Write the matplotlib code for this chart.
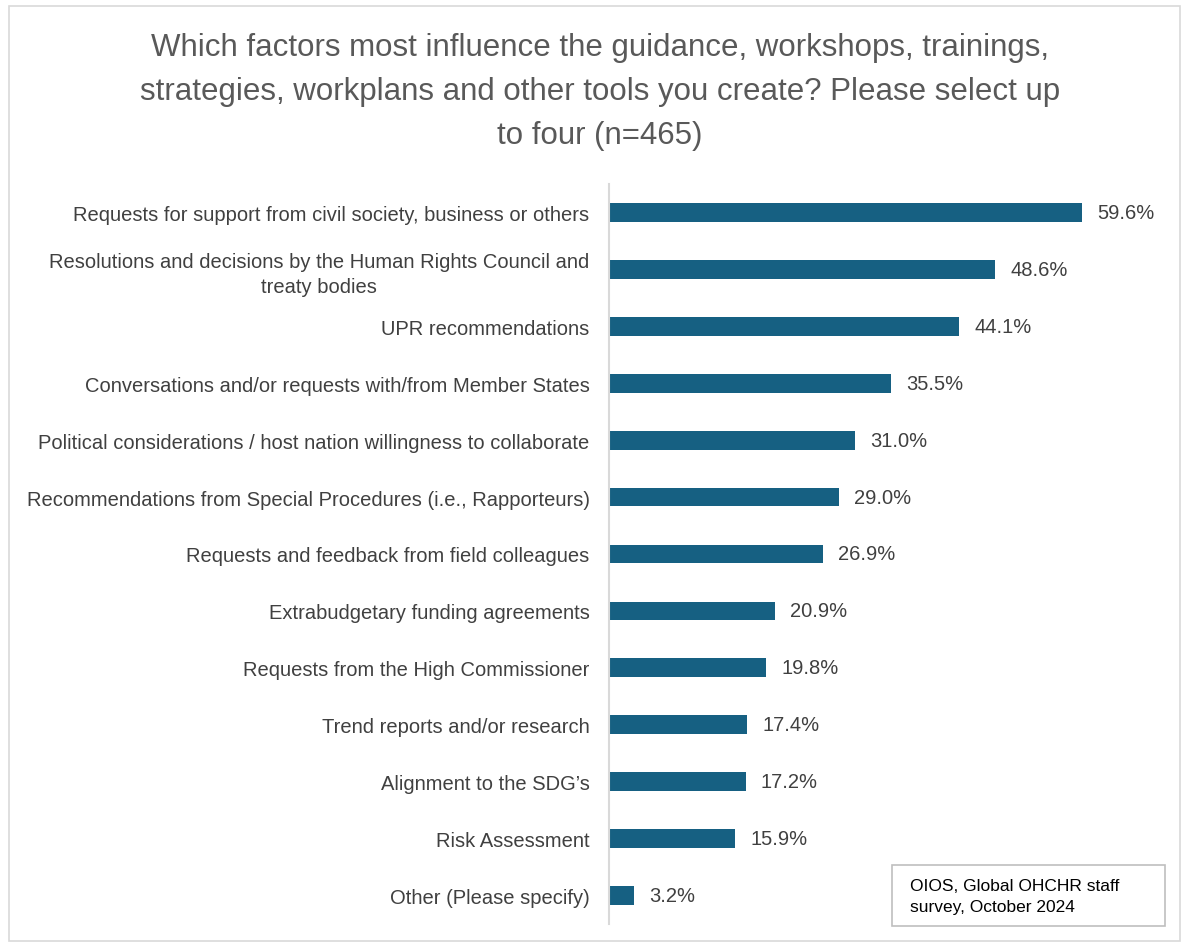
import matplotlib.pyplot as plt
from matplotlib.patches import Rectangle

categories = [
    "Requests for support from civil society, business or others",
    "Resolutions and decisions by the Human Rights Council and\ntreaty bodies",
    "UPR recommendations",
    "Conversations and/or requests with/from Member States",
    "Political considerations / host nation willingness to collaborate",
    "Recommendations from Special Procedures (i.e., Rapporteurs)",
    "Requests and feedback from field colleagues",
    "Extrabudgetary funding agreements",
    "Requests from the High Commissioner",
    "Trend reports and/or research",
    "Alignment to the SDG\u2019s",
    "Risk Assessment",
    "Other (Please specify)",
]
values = [59.6, 48.6, 44.1, 35.5, 31.0, 29.0, 26.9, 20.9, 19.8, 17.4, 17.2, 15.9, 3.2]

TITLE = ("Which factors most influence the guidance, workshops, trainings,\n"
         "strategies, workplans and other tools you create? Please select up\n"
         "to four (n=465)")
SOURCE = "OIOS, Global OHCHR staff\nsurvey, October 2024"

BAR_COLOR = "#166082"
TEXT_COLOR = "#404040"

plt.rcParams["font.family"] = ["Liberation Sans", "DejaVu Sans"]

fig = plt.figure(figsize=(11.88, 9.45), dpi=100)
W, H = 1188, 945

# outer chart border
fig.patches.append(Rectangle((9 / W, 1 - 942 / H), (1180 - 9) / W, (942 - 7) / H,
                             transform=fig.transFigure, fill=False,
                             edgecolor="#d9d9d9", linewidth=1.2))

ax = fig.add_axes([609 / W, 1 - 925 / H, (1165 - 609) / W, (925 - 185) / H])
y = list(range(len(categories)))
ax.barh(y, values, height=0.33, color=BAR_COLOR)
ax.set_ylim(len(categories) - 0.5, -0.5)
ax.set_xlim(0, 70)
ax.set_yticks(y)
ax.set_yticklabels(categories, fontsize=14.5, color=TEXT_COLOR,
                   multialignment="center", linespacing=1.4)
ax.tick_params(axis="y", length=0, pad=14)
ax.set_xticks([])
for s in ["top", "right", "bottom"]:
    ax.spines[s].set_visible(False)
ax.spines["left"].set_color("#d9d9d9")
ax.spines["left"].set_linewidth(1.5)

for yi, v in zip(y, values):
    ax.text(v + 1.9, yi, f"{v:.1f}%", va="center", ha="left", fontsize=14.5, color=TEXT_COLOR)

fig.text(600 / W, 1 - 92 / H, TITLE, ha="center", va="center", fontsize=22.5,
         color="#595959", linespacing=1.6)

# source box
fig.patches.append(Rectangle((892 / W, 1 - 927 / H), (1165 - 892) / W, (927 - 866) / H,
                             transform=fig.transFigure, fill=False,
                             edgecolor="#bfbfbf", linewidth=1.2))
fig.text(910 / W, 1 - 897 / H, SOURCE, ha="left", va="center", fontsize=12.5,
         color="black", linespacing=1.55)

fig.savefig("out.png", dpi=100)
